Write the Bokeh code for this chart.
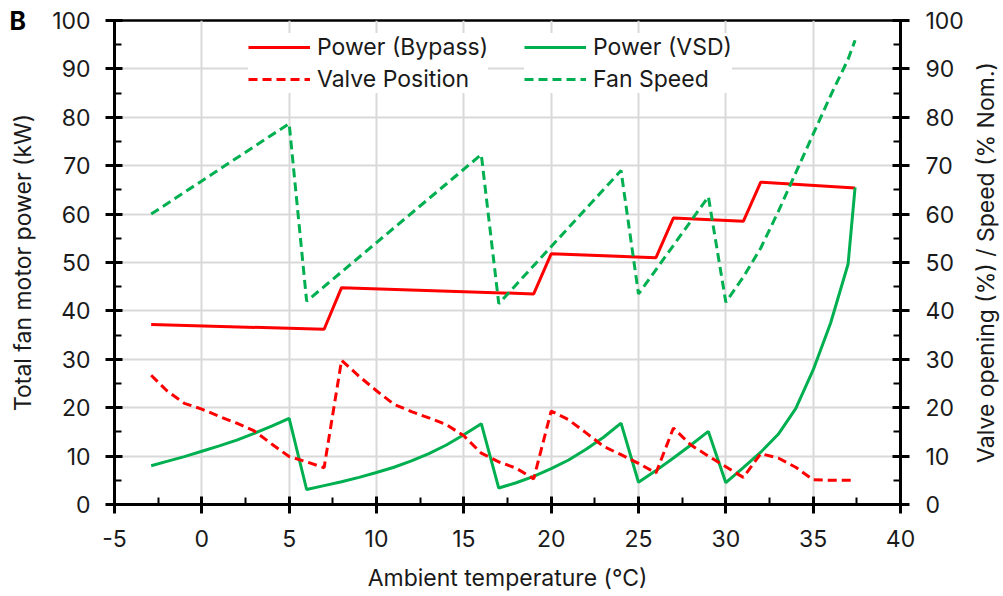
from math import pi
from bokeh.plotting import figure
from bokeh.models import Range1d, LinearAxis, Legend, LegendItem, Label, FixedTicker
from bokeh.embed import file_html
from bokeh.resources import INLINE

# ---- data ----
temps = [-2.9, -2, -1, 0, 1, 2, 3, 4, 5, 6, 7, 8, 9, 10, 11, 12, 13, 14, 15, 16,
         17, 18, 19, 20, 21, 22, 23, 24, 25, 26, 27, 28, 29, 30, 31, 32, 33, 34,
         35, 36, 37, 37.4]
power_vsd = [8.0, 8.9, 9.9, 11.0, 12.1, 13.3, 14.7, 16.2, 17.8, 3.1, 3.9, 4.7, 5.6,
             6.6, 7.7, 9.0, 10.5, 12.3, 14.4, 16.7, 3.4, 4.5, 5.8, 7.4, 9.2, 11.4,
             13.9, 16.8, 4.6, 7.0, 9.6, 12.3, 15.1, 4.5, 7.6, 10.8, 14.5, 19.8, 27.8,
             37.5, 49.7, 65.5]
valve_position = [26.7, 23.5, 20.9, 19.7, 18.2, 16.8, 15.2, 12.5, 9.9, 8.8, 7.6, 29.8,
                  26.5, 23.5, 20.7, 19.2, 17.9, 16.5, 14.2, 10.6, 8.8, 7.5, 5.3, 19.3,
                  17.5, 14.8, 12.0, 10.3, 8.5, 6.5, 15.8, 12.3, 10.0, 7.8, 5.6, 10.5,
                  9.6, 7.7, 5.1, 5.0, 5.0, 5.0]

temps_bypass = [-2.9, 7, 8, 19, 20, 26, 27, 31, 32, 37.4]
power_bypass = [37.2, 36.2, 44.8, 43.5, 51.8, 51.0, 59.2, 58.5, 66.6, 65.4]

temps_fan = [-2.9, 5, 6, 16, 17, 24, 25, 29, 30, 31, 32, 33, 34, 35, 36, 37, 37.4]
fan_speed = [60.0, 78.7, 42.0, 72.3, 41.5, 69.0, 43.5, 63.6, 41.8, 47.0, 53.0, 60.5,
             68.5, 76.5, 84.5, 92.0, 95.9]

x_ticks = [-5, 0, 5, 10, 15, 20, 25, 30, 35, 40]
x_minor = [-2.5, 2.5, 7.5, 12.5, 17.5, 22.5, 27.5, 32.5, 37.5]
y_ticks = [0, 10, 20, 30, 40, 50, 60, 70, 80, 90, 100]
y_minor = [5, 15, 25, 35, 45, 55, 65, 75, 85, 95]

RED = "#ff0000"
GREEN = "#00b050"
FONT = "Inter"
FS = "23px"
TXT = "#1a1a1a"

p = figure(width=1003, height=596, output_backend="svg", toolbar_location=None,
           x_range=Range1d(-5, 40), y_range=Range1d(0, 100),
           min_border_left=114, min_border_right=103, min_border_top=20,
           min_border_bottom=92)
p.extra_y_ranges = {"right": Range1d(0, 100)}
p.background_fill_color = "white"
p.border_fill_color = "white"
p.outline_line_color = "black"
p.outline_line_width = 2.5

xt = FixedTicker(ticks=x_ticks, minor_ticks=x_minor)
yt = FixedTicker(ticks=y_ticks, minor_ticks=y_minor)
p.xaxis.ticker = xt
p.yaxis.ticker = yt
p.xgrid.ticker = xt
p.ygrid.ticker = yt
for g in (p.xgrid, p.ygrid):
    g.grid_line_color = "#d9d9d9"
    g.grid_line_width = 2

xaxis = p.xaxis[0]
laxis = p.yaxis[0]
raxis = LinearAxis(y_range_name="right", ticker=FixedTicker(ticks=y_ticks, minor_ticks=y_minor))
p.add_layout(raxis, "right")

for ax in (xaxis, laxis, raxis):
    ax.axis_line_color = "black"
    ax.axis_line_width = 3
    ax.major_tick_line_color = "black"
    ax.major_tick_line_width = 3
    ax.major_tick_in = 8
    ax.major_tick_out = 9
    ax.minor_tick_line_color = "black"
    ax.minor_tick_line_width = 2
    ax.minor_tick_in = 7
    ax.minor_tick_out = 0
    ax.major_label_text_font = FONT
    ax.major_label_text_font_size = FS
    ax.major_label_text_color = TXT
    ax.axis_label_text_font = FONT
    ax.axis_label_text_font_size = FS
    ax.axis_label_text_font_style = "normal"
    ax.axis_label_text_color = TXT

xaxis.major_label_overrides = {-5: "-5"}
xaxis.axis_label = "Ambient temperature (°C)"
xaxis.major_label_standoff = 16
xaxis.axis_label_standoff = 14
laxis.major_label_standoff = 15
raxis.major_label_standoff = 16

r_bypass = p.line(temps_bypass, power_bypass, line_color=RED, line_width=3)
r_vsd = p.line(temps, power_vsd, line_color=GREEN, line_width=3)
r_valve = p.line(temps, valve_position, line_color=RED, line_width=3,
                 line_dash="9 5", y_range_name="right")
r_fan = p.line(temps_fan, fan_speed, line_color=GREEN, line_width=3,
               line_dash="9 5", y_range_name="right")


def make_legend(items, loc):
    lg = Legend(items=items, location=loc)
    lg.label_text_font = FONT
    lg.label_text_font_size = FS
    lg.label_text_color = TXT
    lg.glyph_width = 62
    lg.glyph_height = 22
    lg.label_standoff = 7
    lg.spacing = 4
    lg.padding = 3
    lg.border_line_color = None
    lg.background_fill_color = "white"
    lg.background_fill_alpha = 1.0
    return lg


p.add_layout(make_legend([
    LegendItem(label="Power (Bypass)", renderers=[r_bypass]),
    LegendItem(label="Valve Position", renderers=[r_valve]),
], (134, 411)), "center")
p.add_layout(make_legend([
    LegendItem(label="Power (VSD)", renderers=[r_vsd]),
    LegendItem(label="Fan Speed", renderers=[r_fan]),
], (410, 411)), "center")

# texts outside the frame: placed in side panels (not clipped to the frame)
p.add_layout(Label(x=-5, y=99.8, x_offset=-105, text="B", text_align="left",
                   text_baseline="middle", text_font=FONT, text_font_size="25px",
                   text_font_style="bold", text_color="black"), "left")
p.add_layout(Label(x=-5, y=50, x_offset=-92, text="Total fan motor power (kW)",
                   angle=pi / 2, text_align="center", text_baseline="middle",
                   text_font=FONT, text_font_size=FS, text_color=TXT), "left")
p.add_layout(Label(x=40, y=50, x_offset=85, y_range_name="right",
                   text="Valve opening (%) / Speed (% Nom.)",
                   angle=pi / 2, text_align="center", text_baseline="middle",
                   text_font=FONT, text_font_size=FS, text_color=TXT), "right")

open("out.html", "w").write(file_html(p, INLINE))
